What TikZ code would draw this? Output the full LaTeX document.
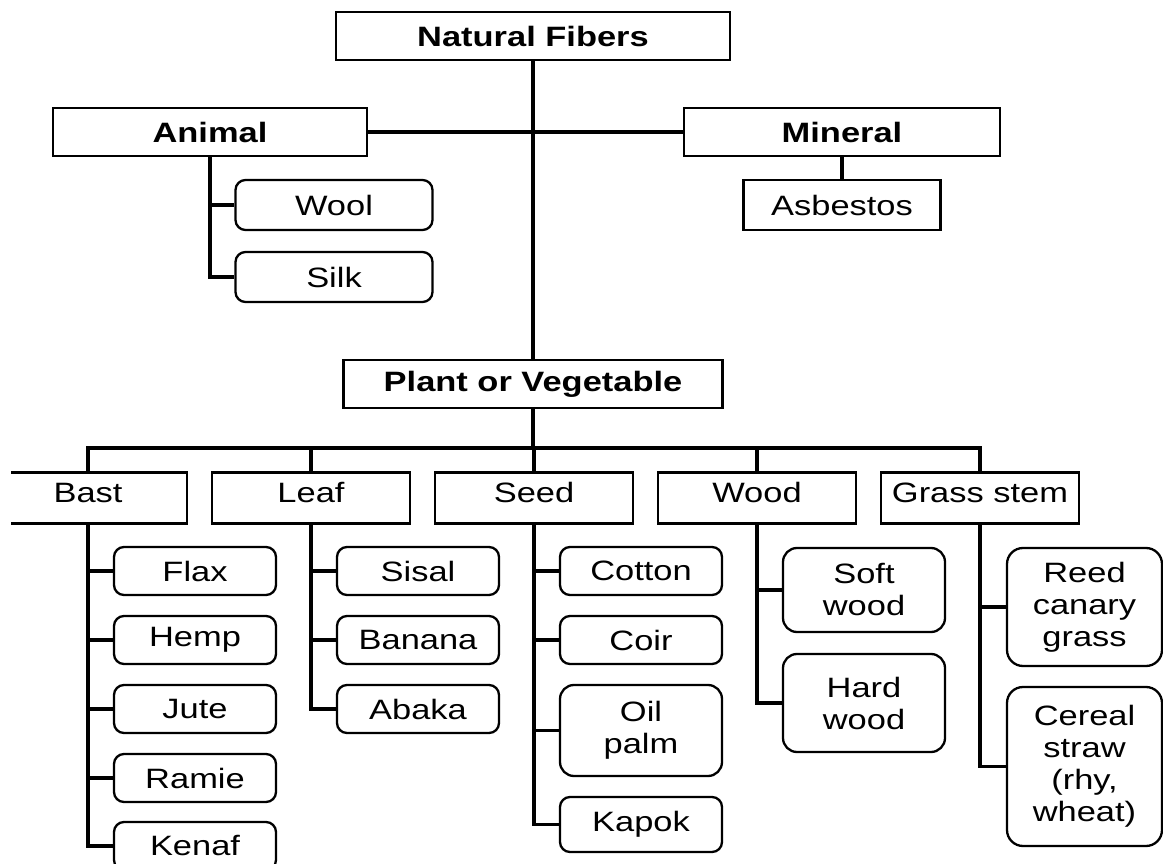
\documentclass[tikz,border=0pt]{standalone}
\usepackage{fontspec}
\setmainfont{Liberation Sans}[FakeStretch=1.23]

\begin{document}
\begin{tikzpicture}[x=1pt,y=-1pt,line width=3.5pt,node distance=223pt,
                    every node/.style={font=\fontsize{28}{32}\selectfont,inner sep=0pt,align=center},
                    head/.style={draw,line width=2.5pt,minimum height=48pt,
                                 font=\fontsize{28}{32}\selectfont\bfseries},
                    group/.style={draw,line width=2.5pt,minimum width=198pt,minimum height=51pt,
                                  text height=20pt,text depth=12pt},
                    item/.style={draw,line width=2.3pt,rounded corners=10pt,
                                 minimum width=162pt,minimum height=48pt}]

  \useasboundingbox (0,0) rectangle (1163,864);
  \clip (11,0) rectangle (1163,864);

  % top levels
  \node[head,minimum width=394pt] (fibers)  at (533,36)  {Natural Fibers};
  \node[head,minimum width=314pt] (animal)  at (210,132) {Animal};
  \node[head,minimum width=316pt] (mineral) at (842,132) {Mineral};
  \node[draw,line width=2.5pt,minimum width=197pt,minimum height=50pt]
                                  (asbestos) at (842,205) {Asbestos};
  \node[item,minimum width=197pt,minimum height=50pt] (wool) at (334,205) {Wool};
  \node[item,minimum width=197pt,minimum height=50pt] (silk) at (334,277) {Silk};
  \node[head,minimum width=379pt] (plant)   at (533,384) {Plant or Vegetable};

  % plant groups
  \node[group] (bast)              at (88,498) {Bast};
  \node[group] (leaf)  [right of=bast]  {Leaf};
  \node[group] (seed)  [right of=leaf]  {Seed};
  \node[group] (wood)  [right of=seed]  {Wood};
  \node[group] (grass) [right of=wood]  {Grass stem};

  \node[item] (flax)  at (195,571) {Flax};
  \node[item] (hemp)  at (195,640) {Hemp};
  \node[item] (jute)  at (195,709) {Jute};
  \node[item] (ramie) at (195,778) {Ramie};
  \node[item] (kenaf) at (195,846) {Kenaf};

  \node[item] (sisal)  at (418,571) {Sisal};
  \node[item] (banana) at (418,640) {Banana};
  \node[item] (abaka)  at (418,709) {Abaka};

  \node[item] (cotton)  at (641,571) {Cotton};
  \node[item] (coir)    at (641,640) {Coir};
  \node[item,minimum height=91pt,rounded corners=14pt] (oilpalm) at (641,730.5) {Oil\\palm};
  \node[item,minimum height=55pt] (kapok) at (641,824.5) {Kapok};

  \node[item,minimum height=84pt,rounded corners=14pt] (softwood) at (864,590) {Soft\\wood};
  \node[item,minimum height=98pt,rounded corners=14pt] (hardwood) at (864,703) {Hard\\wood};

  \node[item,minimum width=155pt,minimum height=118pt,rounded corners=16pt]
        (reed)   at (1084.5,607)   {Reed\\canary\\grass};
  \node[item,minimum width=155pt,minimum height=159pt,rounded corners=16pt]
        (cereal) at (1084.5,766.5) {Cereal\\straw\\(rhy,\\wheat)};

  % connectors
  \draw (fibers) -- (plant);
  \draw (animal) -- (mineral);
  \draw (mineral) -- (asbestos);
  \draw (animal.south) |- (wool)
        (animal.south) |- (silk);

  \coordinate (bus) at (533,448);
  \draw (plant) -- (bus);
  \draw (bast.north) -- (bast.north |- bus) -- (grass.north |- bus) -- (grass.north);
  \draw (leaf.north) -- (leaf.north |- bus)
        (seed.north) -- (seed.north |- bus)
        (wood.north) -- (wood.north |- bus);

  \draw (bast.south) |- (flax)
        (bast.south) |- (hemp)
        (bast.south) |- (jute)
        (bast.south) |- (ramie)
        (bast.south) |- (kenaf);
  \draw (leaf.south) |- (sisal)
        (leaf.south) |- (banana)
        (leaf.south) |- (abaka);
  \draw (seed.south) |- (cotton)
        (seed.south) |- (coir)
        (seed.south) |- (oilpalm)
        (seed.south) |- (kapok);
  \draw (wood.south) |- (softwood)
        (wood.south) |- (hardwood);
  \draw (grass.south) |- (reed)
        (grass.south) |- (cereal);
\end{tikzpicture}
\end{document}
